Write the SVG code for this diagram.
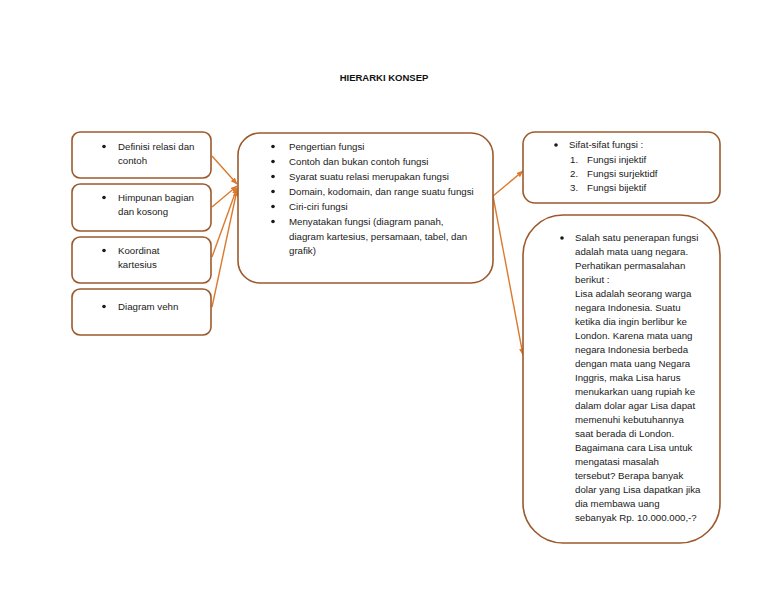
<svg xmlns="http://www.w3.org/2000/svg" width="768" height="594" viewBox="0 0 768 594">
<defs>
<style>
.box{fill:#fff;stroke:#9C5A2C;stroke-width:1.6}
.t{font-family:"Liberation Sans",Arial,sans-serif;font-size:9.7px;fill:#1a1a1a}
.b{fill:#1a1a1a}
.title{font-family:"Liberation Sans",Arial,sans-serif;font-size:9.5px;font-weight:bold;fill:#111}
.con{stroke:#DB7A2E;stroke-width:1.4;fill:none;marker-end:url(#ah)}
</style>
<marker id="ah" viewBox="0 0 10 10" refX="9" refY="5" markerWidth="7" markerHeight="7" orient="auto" markerUnits="userSpaceOnUse">
<path d="M0,1 L10,5 L0,9 z" fill="#DB7A2E"/>
</marker>
</defs>
<rect width="768" height="594" fill="#fff"/>
<text class="title" x="384" y="81" text-anchor="middle">HIERARKI KONSEP</text>

<g id="connectors">
<line class="con" x1="212" y1="156" x2="237" y2="184"/>
<line class="con" x1="212" y1="207" x2="237" y2="186"/>
<line class="con" x1="212" y1="257" x2="237" y2="188"/>
<line class="con" x1="212" y1="307" x2="237" y2="190"/>
<line class="con" x1="493" y1="196" x2="523" y2="171"/>
<line class="con" x1="493" y1="196" x2="523" y2="355"/>
</g>

<g id="n1">
<rect class="box" x="72" y="132" width="139" height="46" rx="8"/>
<circle class="b" cx="104" cy="146.5" r="1.8"/>
<text class="t" x="118" y="150">Definisi relasi dan</text>
<text class="t" x="118" y="164">contoh</text>
</g>
<g id="n2">
<rect class="box" x="72" y="184" width="139" height="47" rx="8"/>
<circle class="b" cx="104" cy="197.5" r="1.8"/>
<text class="t" x="118" y="201">Himpunan bagian</text>
<text class="t" x="118" y="215">dan kosong</text>
</g>
<g id="n3">
<rect class="box" x="72" y="237" width="139" height="46" rx="8"/>
<circle class="b" cx="104" cy="250.5" r="1.8"/>
<text class="t" x="118" y="254">Koordinat</text>
<text class="t" x="118" y="268">kartesius</text>
</g>
<g id="n4">
<rect class="box" x="72" y="289" width="139" height="46" rx="8"/>
<circle class="b" cx="104" cy="306.5" r="1.8"/>
<text class="t" x="118" y="310">Diagram vehn</text>
</g>

<g id="center">
<rect class="box" x="238" y="133" width="255" height="150" rx="22"/>
<circle class="b" cx="273" cy="146.5" r="1.8"/>
<circle class="b" cx="273" cy="161.5" r="1.8"/>
<circle class="b" cx="273" cy="176.5" r="1.8"/>
<circle class="b" cx="273" cy="191.5" r="1.8"/>
<circle class="b" cx="273" cy="206.5" r="1.8"/>
<circle class="b" cx="273" cy="221.5" r="1.8"/>
<g class="t">
<text x="289" y="150">Pengertian fungsi</text>
<text x="289" y="165">Contoh dan bukan contoh fungsi</text>
<text x="289" y="180">Syarat suatu relasi merupakan fungsi</text>
<text x="289" y="195">Domain, kodomain, dan range suatu fungsi</text>
<text x="289" y="210">Ciri-ciri fungsi</text>
<text x="289" y="225">Menyatakan fungsi (diagram panah,</text>
<text x="289" y="240">diagram kartesius, persamaan, tabel, dan</text>
<text x="289" y="254">grafik)</text>
</g>
</g>

<g id="sifat">
<rect class="box" x="523" y="132" width="197" height="71" rx="12"/>
<circle class="b" cx="556" cy="145" r="1.8"/>
<g class="t">
<text x="569" y="148">Sifat-sifat fungsi :</text>
<text x="570" y="163">1.</text><text x="587" y="163">Fungsi injektif</text>
<text x="570" y="177">2.</text><text x="587" y="177">Fungsi surjektidf</text>
<text x="570" y="191">3.</text><text x="587" y="191">Fungsi bijektif</text>
</g>
</g>

<g id="penerapan">
<rect class="box" x="523" y="215" width="197" height="328" rx="40"/>
<circle class="b" cx="562" cy="238" r="1.8"/>
<g class="t">
<text x="575" y="241">Salah satu penerapan fungsi</text>
<text x="575" y="255">adalah mata uang negara.</text>
<text x="575" y="269">Perhatikan permasalahan</text>
<text x="575" y="283">berikut :</text>
<text x="575" y="297">Lisa adalah seorang warga</text>
<text x="575" y="311">negara Indonesia. Suatu</text>
<text x="575" y="325">ketika dia ingin berlibur ke</text>
<text x="575" y="339">London. Karena mata uang</text>
<text x="575" y="353">negara Indonesia berbeda</text>
<text x="575" y="367">dengan mata uang Negara</text>
<text x="575" y="381">Inggris, maka Lisa harus</text>
<text x="575" y="395">menukarkan uang rupiah ke</text>
<text x="575" y="409">dalam dolar agar Lisa dapat</text>
<text x="575" y="423">memenuhi kebutuhannya</text>
<text x="575" y="437">saat berada di London.</text>
<text x="575" y="451">Bagaimana cara Lisa untuk</text>
<text x="575" y="465">mengatasi masalah</text>
<text x="575" y="479">tersebut? Berapa banyak</text>
<text x="575" y="493">dolar yang Lisa dapatkan jika</text>
<text x="575" y="507">dia membawa uang</text>
<text x="575" y="521">sebanyak Rp. 10.000.000,-?</text>
</g>
</g>
</svg>
